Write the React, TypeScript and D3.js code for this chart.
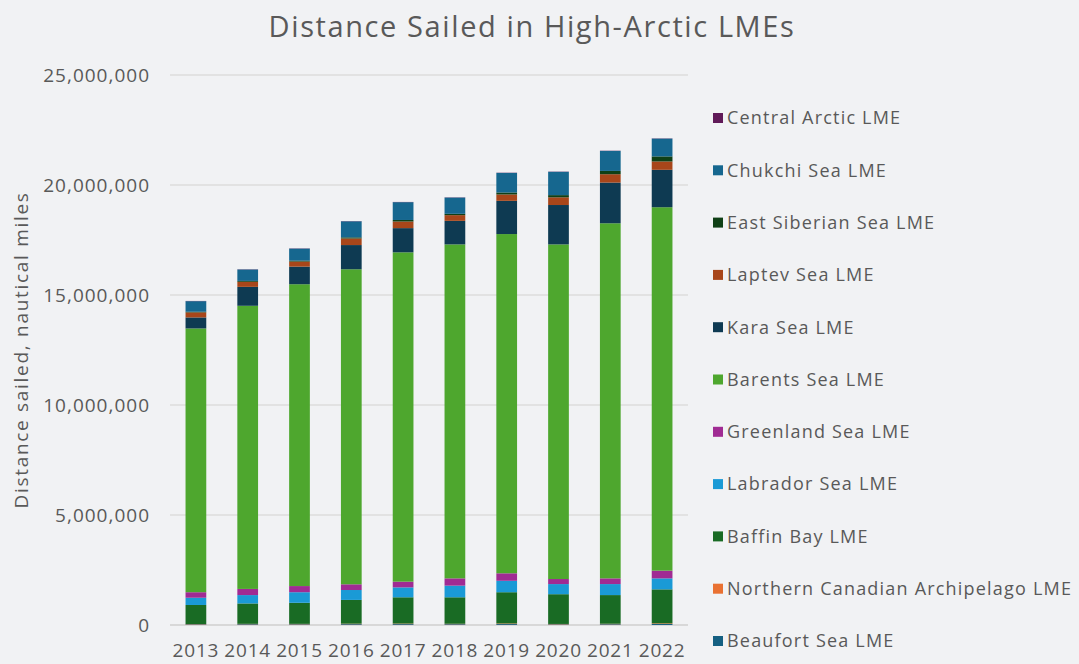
import React from "react";
import * as d3 from "d3";

const years = ["2013", "2014", "2015", "2016", "2017", "2018", "2019", "2020", "2021", "2022"];

const seriesNames = [
  "Beaufort Sea LME",
  "Northern Canadian Archipelago LME",
  "Baffin Bay LME",
  "Labrador Sea LME",
  "Greenland Sea LME",
  "Barents Sea LME",
  "Kara Sea LME",
  "Laptev Sea LME",
  "East Siberian Sea LME",
  "Chukchi Sea LME",
  "Central Arctic LME",
];

const seriesColors = [
  "#156082",
  "#E97132",
  "#196B24",
  "#1A9AD6",
  "#A02B93",
  "#4EA72E",
  "#0E3A52",
  "#A8461A",
  "#0F4016",
  "#16678F",
  "#601A58",
];

const beaufort = [30000, 35000, 32000, 38000, 40000, 36000, 42000, 30000, 35000, 45000];
const northernCanadian = [15000, 18000, 20000, 22000, 25000, 20000, 28000, 18000, 22000, 30000];
const baffin = [865000, 927000, 958000, 1080000, 1195000, 1204000, 1420000, 1352000, 1303000, 1545000];
const labrador = [330000, 380000, 480000, 450000, 450000, 530000, 520000, 460000, 500000, 500000];
const greenland = [250000, 280000, 280000, 260000, 260000, 330000, 340000, 230000, 260000, 350000];
const barents = [11990000, 12870000, 13720000, 14320000, 14970000, 15180000, 15420000, 15210000, 16140000, 16520000];
const kara = [500000, 860000, 800000, 1100000, 1100000, 1070000, 1510000, 1790000, 1850000, 1700000];
const laptev = [230000, 230000, 230000, 300000, 300000, 260000, 290000, 350000, 380000, 380000];
const eastSiberian = [30000, 40000, 40000, 50000, 70000, 60000, 90000, 100000, 150000, 230000];
const chukchi = [480000, 520000, 550000, 730000, 810000, 740000, 890000, 1060000, 910000, 810000];
const centralArctic = [10000, 10000, 10000, 10000, 10000, 10000, 10000, 10000, 10000, 10000];

const seriesValues = [
  beaufort,
  northernCanadian,
  baffin,
  labrador,
  greenland,
  barents,
  kara,
  laptev,
  eastSiberian,
  chukchi,
  centralArctic,
];

const yTicks = [0, 5000000, 10000000, 15000000, 20000000, 25000000];

const FONT = "'Open Sans', 'Noto Sans', sans-serif";
const TEXT = "#595959";

export default function App() {
  const W = 1079;
  const H = 664;
  const x = d3.scaleBand<string>().domain(years).range([170, 688]).paddingInner(0.6).paddingOuter(0.3);
  const y = d3.scaleLinear().domain([0, 25000000]).range([625, 75]);

  const table = years.map((yr, i) => {
    const row: Record<string, number | string> = { year: yr };
    seriesNames.forEach((n, s) => (row[n] = seriesValues[s][i]));
    return row;
  });
  const stacked = d3.stack<any>().keys(seriesNames)(table as any);
  const fmt = d3.format(",");

  const legendNames = seriesNames.slice().reverse();
  const legendColors = seriesColors.slice().reverse();

  return (
    <svg
      width={W}
      height={H}
      style={{ position: "absolute", left: 0, top: 0, background: "#F1F2F4" }}
      fontFamily={FONT}
    >
      <rect x={0} y={0} width={W} height={H} fill="#F1F2F4" />
      <text x={532} y={37} textAnchor="middle" fontSize={29} fill={TEXT} letterSpacing={1.6}>
        Distance Sailed in High-Arctic LMEs
      </text>
      {yTicks.map((t) => (
        <g key={t}>
          <line x1={170} x2={688} y1={y(t)} y2={y(t)} stroke={t === 0 ? "#CFCFCF" : "#DDDDDD"} strokeWidth={1.3} />
          <text x={150} y={y(t)} dy="0.35em" textAnchor="end" fontSize={19} fill={TEXT} letterSpacing={1}>
            {fmt(t)}
          </text>
        </g>
      ))}
      <text
        transform={`translate(28,350) rotate(-90)`}
        textAnchor="middle"
        fontSize={19}
        fill={TEXT}
        letterSpacing={1.7}
      >
        Distance sailed, nautical miles
      </text>
      {stacked.map((layer, s) => (
        <g key={seriesNames[s]} fill={seriesColors[s]}>
          {layer.map((d, i) => (
            <rect
              key={years[i]}
              x={x(years[i])}
              width={x.bandwidth()}
              y={y(d[1])}
              height={Math.max(0, y(d[0]) - y(d[1]))}
            />
          ))}
        </g>
      ))}
      {years.map((yr) => (
        <text
          key={yr}
          x={(x(yr) as number) + x.bandwidth() / 2}
          y={657}
          textAnchor="middle"
          fontSize={19}
          fill={TEXT}
          letterSpacing={0.8}
        >
          {yr}
        </text>
      ))}
      {legendNames.map((n, i) => {
        const cy = 118 + i * 52.3;
        return (
          <g key={n}>
            <rect x={713} y={cy - 5} width={10} height={10} fill={legendColors[i]} />
            <text x={727} y={cy} dy="0.35em" fontSize={18} fill={TEXT} letterSpacing={1.2}>
              {n}
            </text>
          </g>
        );
      })}
    </svg>
  );
}
